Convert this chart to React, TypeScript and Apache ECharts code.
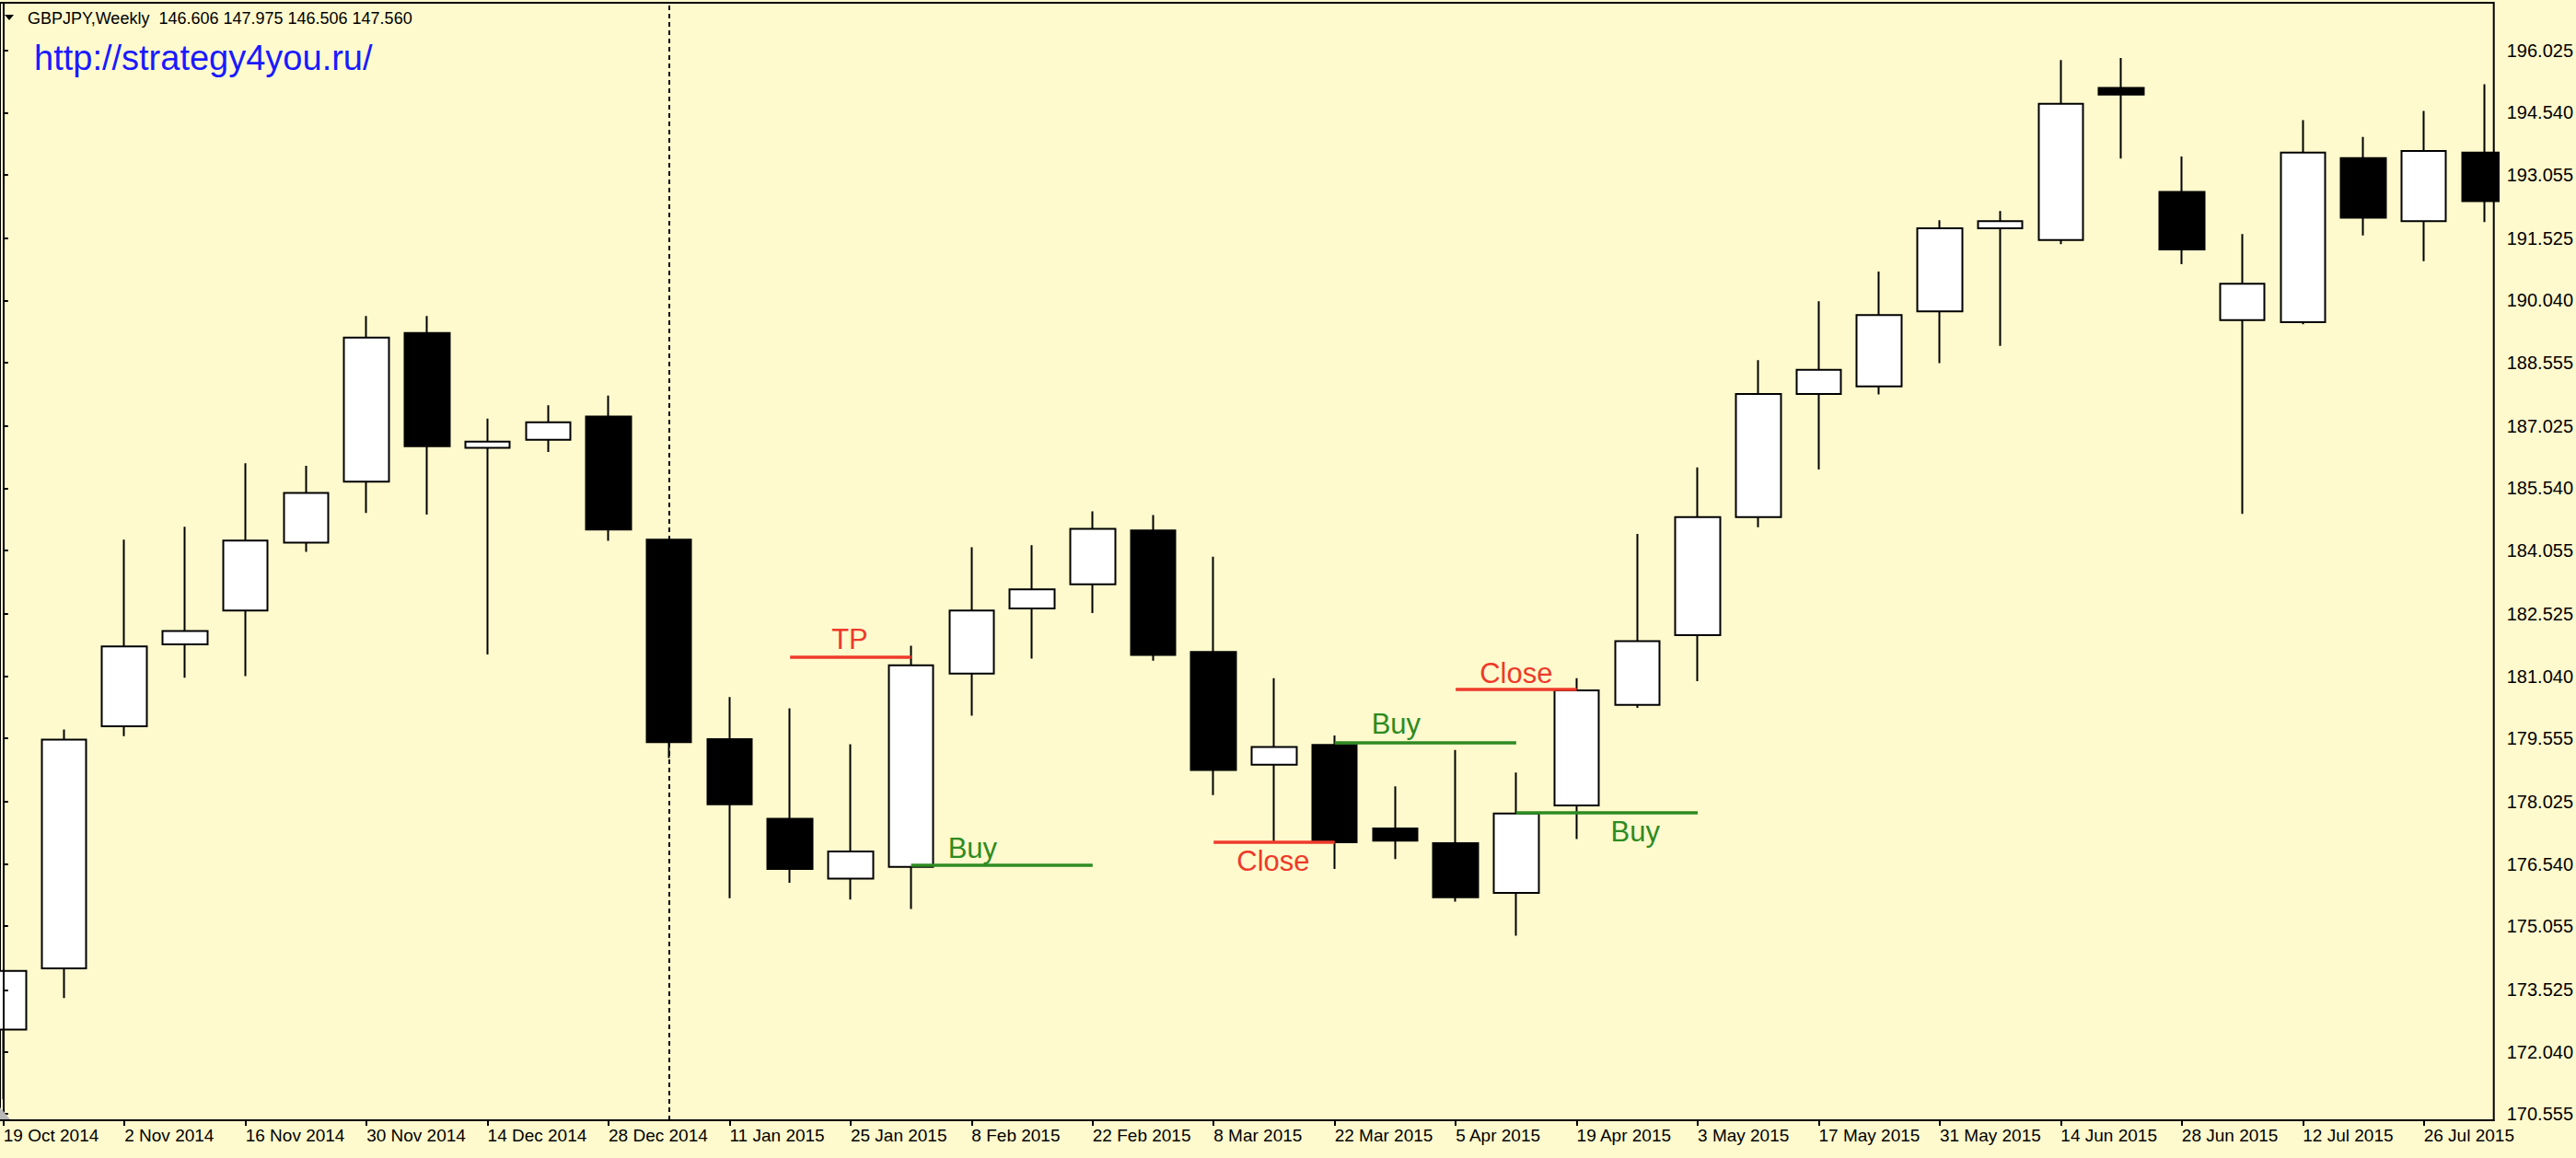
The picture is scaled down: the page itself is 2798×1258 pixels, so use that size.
import React, { useEffect, useRef } from "react";
import * as echarts from "echarts";

// ---------- data ----------
const dates = [
  "19 Oct 2014", "26 Oct 2014", "2 Nov 2014", "9 Nov 2014", "16 Nov 2014", "23 Nov 2014",
  "30 Nov 2014", "7 Dec 2014", "14 Dec 2014", "21 Dec 2014", "28 Dec 2014", "4 Jan 2015",
  "11 Jan 2015", "18 Jan 2015", "25 Jan 2015", "1 Feb 2015", "8 Feb 2015", "15 Feb 2015",
  "22 Feb 2015", "1 Mar 2015", "8 Mar 2015", "15 Mar 2015", "22 Mar 2015", "29 Mar 2015",
  "5 Apr 2015", "12 Apr 2015", "19 Apr 2015", "26 Apr 2015", "3 May 2015", "10 May 2015",
  "17 May 2015", "24 May 2015", "31 May 2015", "7 Jun 2015", "14 Jun 2015", "21 Jun 2015",
  "28 Jun 2015", "5 Jul 2015", "12 Jul 2015", "19 Jul 2015", "26 Jul 2015", "2 Aug 2015",
];
const opens = [172.57, 174.04, 179.84, 181.80, 182.61, 184.24, 185.70, 189.26, 186.51, 186.70, 187.26, 184.31,
  179.53, 177.62, 176.19, 176.47, 181.10, 182.66, 183.24, 184.53, 181.62, 178.92, 179.39, 177.39,
  177.04, 175.85, 177.94, 180.35, 182.02, 184.85, 187.80, 187.98, 189.78, 191.77, 191.49, 195.13,
  192.64, 189.57, 189.52, 193.45, 191.94, 193.58];
const closes = [173.98, 179.52, 181.75, 182.12, 184.29, 185.43, 189.15, 186.55, 186.66, 187.12, 184.55, 179.46,
  177.97, 176.42, 176.84, 181.30, 182.61, 183.12, 184.57, 181.55, 178.79, 179.34, 177.06, 177.10,
  175.74, 177.75, 180.70, 181.88, 184.85, 187.80, 188.38, 189.69, 191.77, 191.94, 194.75, 194.97,
  191.26, 190.44, 193.58, 192.02, 193.62, 192.42];
const lows = [170.90, 173.33, 179.60, 181.00, 181.04, 184.02, 184.95, 184.91, 181.56, 186.41, 184.28, 179.08,
  175.72, 176.09, 175.69, 175.46, 180.09, 181.46, 182.55, 181.41, 178.19, 177.06, 176.42, 176.66,
  175.64, 174.82, 177.14, 180.28, 180.92, 184.61, 185.99, 187.79, 188.54, 188.95, 191.39, 193.44,
  190.91, 184.93, 189.47, 191.60, 190.98, 191.92];
const highs = [173.98, 179.76, 184.31, 184.62, 186.14, 186.08, 189.67, 189.67, 187.21, 187.53, 187.76, 184.33,
  180.54, 180.27, 179.41, 181.77, 184.13, 184.18, 184.99, 184.90, 183.90, 180.99, 179.62, 178.40,
  179.27, 178.73, 180.99, 184.45, 186.04, 188.61, 190.02, 190.73, 191.96, 192.18, 195.80, 195.85,
  193.49, 191.63, 194.36, 193.96, 194.58, 195.22];

const yTickValues = [170.555, 172.040, 173.525, 175.055, 176.540, 178.025, 179.555, 181.040, 182.525,
  184.055, 185.540, 187.025, 188.555, 190.040, 191.525, 193.055, 194.540, 196.025];
const dateTickIndexes = [0, 2, 4, 6, 8, 10, 12, 14, 16, 18, 20, 22, 24, 26, 28, 30, 32, 34, 36, 38, 40];
const separatorIndex = 11;

const tradeTexts = ["TP", "Buy", "Close", "Buy", "Close", "Buy"];
const tradeKinds = ["exit", "buy", "exit", "buy", "exit", "buy"];
const tradeStart = [13, 15, 20, 22, 24, 25];
const tradeEnd = [15, 18, 22, 25, 26, 28];
const tradePrice = [181.50, 176.51, 177.07, 179.45, 180.72, 177.78];

const headerText = "GBPJPY,Weekly  146.606 147.975 146.506 147.560";
const urlText = "http://strategy4you.ru/";

// ---------- layout / style ----------
const W = 2798;
const H = 1258;
const BAR_PX = 65.9;
const FIRST_X = 1.8;
const PLOT_LEFT = -2;
const PLOT_RIGHT = 2714;
const PLOT_TOP = 3;
const PLOT_BOTTOM = 1217;
const YREF_VAL = 196.025;
const YREF_PX = 55;
const YEN_PX = 45.347;
const xMin = (PLOT_LEFT - FIRST_X) / BAR_PX;
const xMax = (PLOT_RIGHT - FIRST_X) / BAR_PX;
const yMax = YREF_VAL + (YREF_PX - PLOT_TOP) / YEN_PX;
const yMin = YREF_VAL - (PLOT_BOTTOM - YREF_PX) / YEN_PX;

const BG = "#FFFACD";
const RED = "#EE3A2B";
const GREEN = "#2E8B22";
const FONT = "Liberation Sans";

const labelPlacement: { pos: string; d: number[] }[] = [
  { pos: "insideStartTop", d: [45, 3.5] },
  { pos: "insideStartTop", d: [40, 2.5] },
  { pos: "insideStartBottom", d: [25, 5.5] },
  { pos: "insideStartTop", d: [40, 4.5] },
  { pos: "insideStartTop", d: [26, 2.5] },
  { pos: "insideEndBottom", d: [41, 5.5] },
];

function buildOption() {
  const candleData = dates.map((_, i) => [i, opens[i], closes[i], lows[i], highs[i]]);

  const tradeLines = tradeTexts.map((t, k) => {
    const color = tradeKinds[k] === "buy" ? GREEN : RED;
    return [
      {
        coord: [tradeStart[k], tradePrice[k]],
        lineStyle: { color, width: 3.5, type: "solid" },
        label: {
          show: true,
          formatter: t,
          position: labelPlacement[k].pos,
          distance: labelPlacement[k].d,
          color,
          fontSize: 31,
          fontFamily: FONT,
        },
      },
      { coord: [tradeEnd[k], tradePrice[k]] },
    ];
  });

  return {
    animation: false,
    backgroundColor: BG,
    title: [
      {
        text: headerText,
        left: 30,
        top: 11,
        padding: 0,
        textStyle: { fontSize: 18, fontWeight: "normal", fontFamily: FONT, color: "#000" },
      },
      {
        text: urlText,
        left: 37,
        top: 44,
        padding: 0,
        textStyle: { fontSize: 38, fontWeight: "normal", fontFamily: FONT, color: "#1a1aff" },
      },
    ],
    grid: {
      left: PLOT_LEFT,
      right: W - PLOT_RIGHT,
      top: PLOT_TOP,
      bottom: H - PLOT_BOTTOM,
      show: true,
      borderColor: "#000",
      borderWidth: 2,
      backgroundColor: "transparent",
    },
    xAxis: {
      type: "value",
      min: xMin,
      max: xMax,
      z: 10,
      axisLine: { show: true, onZero: false, lineStyle: { color: "#000", width: 2 } },
      axisTick: {
        show: true,
        customValues: dateTickIndexes,
        length: 6,
        lineStyle: { color: "#000", width: 2 },
      },
      axisLabel: {
        customValues: dateTickIndexes,
        formatter: (v: number) => dates[Math.round(v)] ?? "",
        align: "left",
        margin: 7,
        fontSize: 19,
        fontFamily: FONT,
        color: "#000",
      },
      splitLine: { show: false },
    },
    yAxis: {
      type: "value",
      position: "right",
      min: yMin,
      max: yMax,
      z: 10,
      axisLine: { show: true, lineStyle: { color: "#000", width: 2 } },
      axisTick: {
        show: true,
        inside: false,
        customValues: yTickValues,
        length: 5,
        lineStyle: { color: "#000", width: 2 },
      },
      axisLabel: {
        customValues: yTickValues,
        formatter: (v: number) => v.toFixed(3),
        margin: 14,
        fontSize: 20,
        fontFamily: FONT,
        color: "#000",
      },
      splitLine: { show: false },
    },
    graphic: [
      {
        type: "polygon",
        shape: { points: [[5, 16], [15, 16], [10, 22]] },
        style: { fill: "#000" },
        z: 20,
      },
      {
        type: "polygon",
        shape: { points: [[0, 1203], [0, 1216], [11, 1216]] },
        style: { fill: "#B8B8B8" },
        z: 20,
        silent: true,
      },
      {
        type: "rect",
        left: PLOT_RIGHT + 1,
        top: 0,
        shape: { width: W - PLOT_RIGHT, height: H },
        style: { fill: BG },
        z: 5,
        silent: true,
      },
    ],
    series: [
      {
        type: "candlestick",
        data: candleData,
        encode: { x: 0, y: [1, 2, 3, 4] },
        barWidth: 49,
        itemStyle: {
          color: "#ffffff",
          color0: "#000000",
          borderColor: "#000000",
          borderColor0: "#000000",
          borderColorDoji: "#000000",
          borderWidth: 2,
        },
        markLine: {
          silent: true,
          animation: false,
          symbol: ["none", "none"],
          data: [
            {
              xAxis: separatorIndex,
              lineStyle: { color: "#000", width: 2, type: [5, 4] },
              label: { show: false },
            },
            ...tradeLines,
          ],
        },
      },
    ],
  };
}

export default function App() {
  const ref = useRef<HTMLDivElement>(null);
  useEffect(() => {
    if (!ref.current) return;
    const chart = echarts.init(ref.current, undefined, { renderer: "svg", width: W, height: H });
    chart.setOption(buildOption() as any);
    return () => chart.dispose();
  }, []);
  return (
    <div
      ref={ref}
      style={{ position: "fixed", left: 0, top: 0, width: W, height: H, background: BG }}
    />
  );
}
